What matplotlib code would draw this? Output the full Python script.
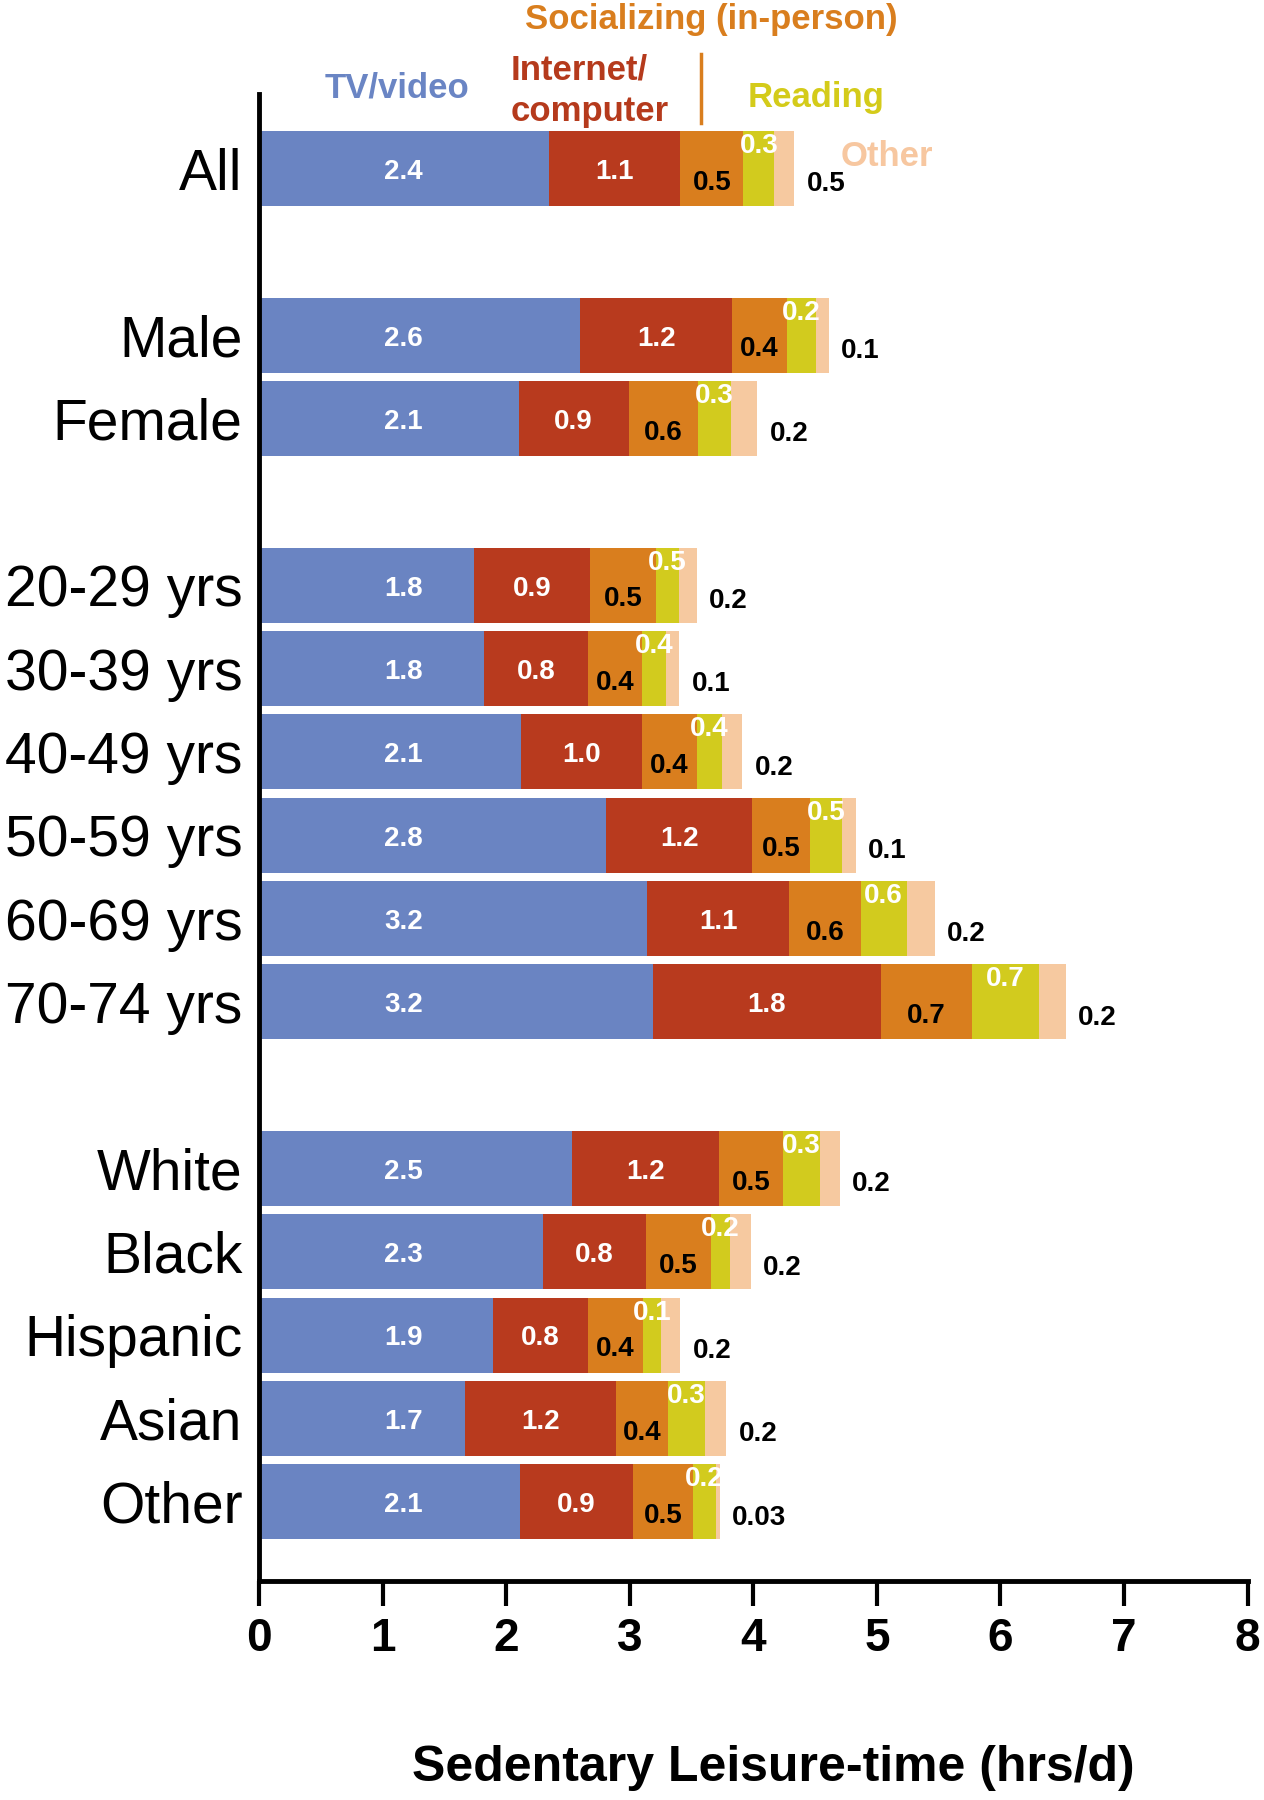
import numpy as np
import matplotlib
matplotlib.use("Agg")
import matplotlib.pyplot as plt
from matplotlib.lines import Line2D

plt.rcParams['font.family'] = ['Liberation Sans', 'DejaVu Sans']

# rows, with blank slots between groups
groups = ["All", "", "Male", "Female", "", "20-29 yrs", "30-39 yrs", "40-49 yrs",
          "50-59 yrs", "60-69 yrs", "70-74 yrs", "", "White", "Black", "Hispanic",
          "Asian", "Other"]
rows = [g for g in groups if g]

# segment widths (hrs/d)
tv = [2.35, 2.60, 2.10, 1.74, 1.82, 2.12, 2.81, 3.14, 3.19, 2.53, 2.30, 1.89, 1.67, 2.11]
internet = [1.06, 1.23, 0.89, 0.94, 0.84, 0.98, 1.18, 1.15, 1.84, 1.19, 0.83, 0.77, 1.22, 0.92]
social = [0.51, 0.44, 0.56, 0.53, 0.44, 0.44, 0.47, 0.58, 0.74, 0.52, 0.53, 0.45, 0.42, 0.48]
reading = [0.25, 0.24, 0.27, 0.19, 0.19, 0.21, 0.26, 0.37, 0.54, 0.30, 0.15, 0.14, 0.30, 0.19]
other = [0.16, 0.10, 0.21, 0.14, 0.11, 0.16, 0.11, 0.23, 0.22, 0.16, 0.17, 0.16, 0.17, 0.03]

# printed labels
tv_lab = ["2.4", "2.6", "2.1", "1.8", "1.8", "2.1", "2.8", "3.2", "3.2", "2.5", "2.3", "1.9", "1.7", "2.1"]
int_lab = ["1.1", "1.2", "0.9", "0.9", "0.8", "1.0", "1.2", "1.1", "1.8", "1.2", "0.8", "0.8", "1.2", "0.9"]
soc_lab = ["0.5", "0.4", "0.6", "0.5", "0.4", "0.4", "0.5", "0.6", "0.7", "0.5", "0.5", "0.4", "0.4", "0.5"]
read_lab = ["0.3", "0.2", "0.3", "0.5", "0.4", "0.4", "0.5", "0.6", "0.7", "0.3", "0.2", "0.1", "0.3", "0.2"]
oth_lab = ["0.5", "0.1", "0.2", "0.2", "0.1", "0.2", "0.1", "0.2", "0.2", "0.2", "0.2", "0.2", "0.2", "0.03"]

colors = ["#6a84c2", "#b83a1e", "#d97e1e", "#d2cb1e", "#f6c9a0"]

fig = plt.figure(figsize=(12.64, 18), dpi=100)
ax = fig.add_axes([0.205, 0.1217, 0.782, 0.8263])

ypos = np.array([i for i, g in enumerate(groups) if g])
series = [tv, internet, social, reading, other]
left = np.zeros(len(rows))
for vals, c in zip(series, colors):
    ax.barh(ypos, vals, left=left, height=0.9, color=c, edgecolor='none')
    left = left + np.array(vals)

bold = dict(fontweight='bold', fontsize=20)
starts = np.cumsum([np.zeros(len(rows))] + [np.array(s) for s in series], axis=0)
for i, y in enumerate(ypos):
    # TV/video labels sit in one column
    ax.text(1.17, y + 0.04, tv_lab[i], color='white', ha='center', va='center', **bold)
    ax.text(starts[1][i] + internet[i] / 2, y + 0.04, int_lab[i], color='white', ha='center', va='center', **bold)
    ax.text(starts[2][i] + social[i] / 2, y + 0.17, soc_lab[i], color='black', ha='center', va='center', **bold)
    ax.text(starts[3][i] + reading[i] / 2, y - 0.27, read_lab[i], color='white', ha='center', va='center', **bold)
    ax.text(starts[5][i] + 0.1, y + 0.19, oth_lab[i], color='black', ha='left', va='center', **bold)

ax.set_xlim(0, 8)
ax.set_ylim(16.95, -0.9)
ax.set_yticks(ypos)
ax.set_yticklabels(rows, fontsize=41)
ax.tick_params(axis='y', length=0, pad=12)
ax.set_xticks(range(9))
ax.tick_params(axis='x', length=18, width=3, labelsize=33, pad=8)
for lab in ax.get_xticklabels():
    lab.set_fontweight('bold')
ax.spines['top'].set_visible(False)
ax.spines['right'].set_visible(False)
ax.spines['left'].set_linewidth(3.5)
ax.spines['bottom'].set_linewidth(3.5)
ax.set_xlabel("Sedentary Leisure-time (hrs/d)", fontsize=36, fontweight='bold')
ax.xaxis.set_label_coords(0.52, -0.11)

# category labels above the bars
leg = dict(fontsize=25, fontweight='bold')
fig.text(0.314, 0.951, "TV/video", color="#6a85c4", ha='center', va='center', **leg)
fig.text(0.404, 0.9495, "Internet/\ncomputer", color="#b53a1c", ha='left', va='center', linespacing=1.3, **leg)
fig.text(0.563, 0.989, "Socializing (in-person)", color="#d97e1e", ha='center', va='center', **leg)
fig.add_artist(Line2D([0.5546, 0.5546], [0.9317, 0.970], color="#d97e1e", lw=2.5))
fig.text(0.646, 0.9456, "Reading", color="#d4cb1a", ha='center', va='center', **leg)
fig.text(0.702, 0.9128, "Other", color="#f7c7a0", ha='center', va='center', **leg)

fig.savefig("out.png", dpi=100)
